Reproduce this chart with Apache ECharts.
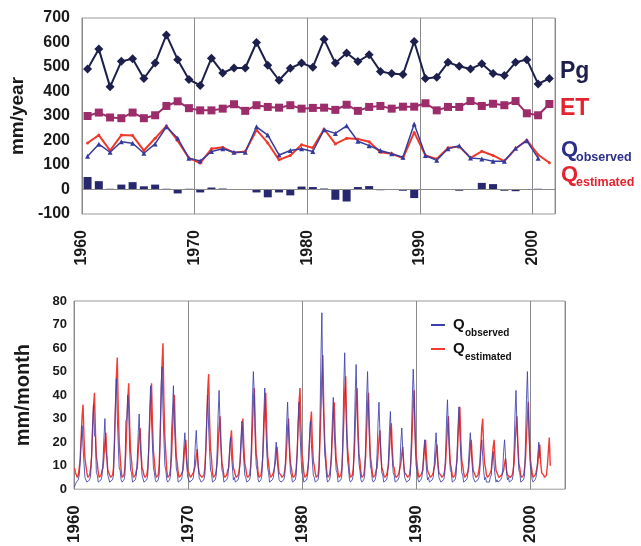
<!DOCTYPE html>
<html>
<head>
<meta charset="utf-8">
<script src="https://cdn.jsdelivr.net/npm/echarts@6/dist/echarts.min.js"></script>
<style>
html,body{margin:0;padding:0;background:#fff;}
#c{width:641px;height:546px;}
</style>
</head>
<body>
<div id="c"></div>
<script>
// ---------- annual data (mm/year) ----------
var years = [1960,1961,1962,1963,1964,1965,1966,1967,1968,1969,
             1970,1971,1972,1973,1974,1975,1976,1977,1978,1979,
             1980,1981,1982,1983,1984,1985,1986,1987,1988,1989,
             1990,1991,1992,1993,1994,1995,1996,1997,1998,1999,
             2000,2001];
var pg = [492,573,419,523,534,453,516,631,530,449,
          425,536,476,496,496,600,507,446,495,516,
          499,613,516,557,522,550,482,473,469,604,
          453,458,519,503,492,513,473,465,519,530,
          431,453];
var et = [300,314,294,291,314,291,303,341,360,332,
          323,323,330,348,321,344,337,334,344,330,
          333,334,325,346,321,337,341,330,338,338,
          352,323,337,337,361,341,350,344,361,311,
          303,349];
var qObsYear = [136,185,152,195,189,148,186,256,209,128,
                116,155,166,152,152,256,222,141,159,166,
                155,244,229,260,197,179,159,146,132,267,
                139,119,166,179,129,125,115,115,168,199,
                128];
var qEstYear = [190,222,159,222,220,159,209,260,199,128,
                108,166,172,150,155,243,190,121,139,183,
                170,247,186,209,206,195,152,146,128,233,
                139,125,170,175,129,156,139,116,166,202,
                142,109];
var diffYear = [51,34,3,20,30,13,20,3,-16,3,
                -12,8,4,0,2,-12,-32,-12,-24,12,
                10,4,-42,-49,10,14,-3,2,-5,-35,
                0,-2,2,-5,0,27,22,-5,-7,0,
                3];
var yTicksTop = [-100,0,100,200,300,400,500,600,700];
var xTickYears = [1960,1970,1980,1990,2000];

// ---------- monthly data (mm/month), Jan 1960 onward ----------
var qObsMonth = [
 1,2,3,3,4,6,11,20,27,18,11,5,     // 1960
 5,3,3,3,4,6,14,27,36,23,22,7,     // 1961
 6,3,3,3,4,6,12,22,30,16,14,6,     // 1962
 6,3,3,3,4,6,19,35,47,31,19,9,     // 1963
 8,4,3,3,4,6,29,30,40,34,16,8,     // 1964
 7,3,3,3,4,6,13,24,32,20,13,6,     // 1965
 6,3,3,3,4,6,18,33,44,29,18,9,     // 1966
 7,4,3,3,4,6,21,44,52,34,21,10,    // 1967
 8,4,3,3,4,6,25,33,44,29,18,9,     // 1968
 7,3,3,3,4,5,10,18,24,16,10,5,     // 1969
 5,3,3,3,4,5,10,19,25,16,10,5,     // 1970
 5,3,3,3,4,6,16,30,40,26,16,8,     // 1971
 7,3,3,3,4,6,17,32,42,27,17,8,     // 1972
 7,3,3,3,4,5,9,17,22,14,9,4,       // 1973
 5,3,3,3,4,6,12,22,29,19,12,6,     // 1974
 5,3,3,3,4,6,20,38,50,40,20,10,    // 1975
 8,4,3,3,4,6,17,32,43,28,17,9,     // 1976
 7,3,3,3,4,5,8,15,20,13,8,4,       // 1977
 4,3,3,3,4,6,15,28,37,24,15,7,     // 1978
 6,3,3,3,4,6,15,28,37,24,15,7,     // 1979
 6,3,3,3,4,6,12,22,29,19,12,6,     // 1980
 5,3,3,3,4,7,30,56,75,40,30,15,    // 1981
 11,5,3,3,4,6,16,29,39,25,16,8,    // 1982
 7,3,3,3,4,6,23,44,58,38,23,12,    // 1983
 9,4,3,3,4,6,21,40,53,34,21,11,    // 1984
 8,4,3,3,4,6,20,38,50,33,20,10,    // 1985
 8,4,3,3,4,6,15,28,37,24,15,7,     // 1986
 6,3,3,3,4,6,13,25,33,21,13,7,     // 1987
 6,3,3,3,4,5,10,20,26,17,10,5,     // 1988
 5,3,3,3,4,6,20,38,51,40,20,10,    // 1989
 8,4,3,3,4,5,8,16,21,14,8,4,       // 1990
 5,3,3,3,4,5,10,18,24,16,10,5,     // 1991
 5,3,3,3,4,6,15,29,38,25,15,8,     // 1992
 7,3,3,3,4,6,14,26,35,23,14,7,     // 1993
 6,3,3,3,4,5,10,18,24,16,10,5,     // 1994
 5,3,3,3,4,5,8,16,21,14,8,4,       // 1995
 5,3,3,3,3,5,6,12,16,10,6,3,       // 1996
 4,3,3,3,4,5,8,16,21,14,8,4,       // 1997
 5,3,3,3,4,6,17,32,42,27,17,8,     // 1998
 7,3,3,3,4,6,20,38,50,33,20,10,    // 1999
 8,4,3,3,4,5,8,15,20,13            // 2000 (Jan-Oct)
];
var qEstMonth = [
 9,7,6,5,6,9,13,22,31,36,22,13,    // 1960
 10,7,5,5,6,9,14,25,35,41,25,14,   // 1961
 11,7,5,5,6,8,9,14,20,24,14,8,     // 1962
 8,6,5,5,6,9,20,34,48,56,34,20,    // 1963
 14,8,5,5,6,9,16,27,38,45,27,16,   // 1964
 12,7,5,5,6,8,9,16,22,26,16,9,     // 1965
 8,6,5,5,6,9,16,27,38,45,27,16,    // 1966
 12,7,5,5,6,10,22,37,53,62,37,22,  // 1967
 15,8,5,5,6,9,14,24,34,40,24,14,   // 1968
 11,7,5,5,6,7,8,13,18,21,13,8,     // 1969
 7,6,5,5,5,7,7,10,14,17,10,7,      // 1970
 6,6,5,5,6,9,17,29,42,49,29,17,    // 1971
 13,7,5,5,6,8,11,19,26,31,19,11,   // 1972
 9,6,5,5,6,8,9,15,21,25,15,9,      // 1973
 8,6,5,5,6,8,11,18,26,30,18,11,    // 1974
 9,6,5,5,6,9,15,26,37,43,26,15,    // 1975
 12,7,5,5,6,9,14,25,35,41,25,14,   // 1976
 11,7,5,5,6,7,7,11,15,18,11,7,     // 1977
 7,6,5,5,6,8,11,18,26,30,18,11,    // 1978
 9,6,5,5,6,9,15,26,37,43,26,15,    // 1979
 12,7,5,5,6,8,12,20,28,33,20,12,   // 1980
 10,7,5,5,6,10,20,34,48,57,34,20,  // 1981
 14,8,5,5,6,9,13,22,31,37,22,13,   // 1982
 10,7,5,5,6,9,17,29,41,48,29,17,   // 1983
 13,7,5,5,6,9,15,26,37,43,26,15,   // 1984
 12,7,5,5,6,9,14,25,35,41,25,14,   // 1985
 11,7,5,5,6,8,9,15,21,25,15,9,     // 1986
 8,6,5,5,6,8,10,17,24,28,17,10,    // 1987
 9,6,5,5,6,7,7,11,15,18,11,7,      // 1988
 7,6,5,5,6,9,15,25,36,42,25,15,    // 1989
 11,7,5,5,6,7,8,13,18,21,13,8,     // 1990
 7,6,5,5,6,7,7,11,16,19,11,7,      // 1991
 7,6,5,5,6,8,11,19,26,31,19,11,    // 1992
 9,6,5,5,6,9,12,21,30,35,21,12,    // 1993
 10,7,5,5,6,7,8,13,18,21,13,8,     // 1994
 7,6,5,5,6,8,11,18,26,30,18,11,    // 1995
 9,6,5,5,6,7,8,13,18,21,13,8,      // 1996
 7,6,5,5,5,6,6,8,11,13,8,6,        // 1997
 6,6,5,5,6,8,11,19,26,31,19,11,    // 1998
 9,6,5,5,6,9,13,22,31,37,22,13,    // 1999
 10,7,5,5,6,7,7,11,16,19,11,7,     // 2000
 7,6,5,5,6,10,16,22,10             // 2001 (Jan-Sep)
];
var monthStartYear = 1960;

// ---------- chart ----------
var FF = '"Liberation Sans", Arial, sans-serif';
var NAVY = '#1d1f4c', PURP = '#9c2d6a', BLUE = '#353b9c', RED = '#f0382a', BAR = '#27286f';

function annual(arr){ return arr.map(function(v,i){ return [years[i]+0.5, v]; }); }
function monthly(arr){ return arr.map(function(v,i){ return [monthStartYear + (i+0.5)/12, v]; }); }

var chart = echarts.init(document.getElementById('c'), null, {renderer:'canvas'});
var tickFmt = function(v){ return xTickYears.indexOf(v) >= 0 ? String(v) : ''; };

var option = {
  animation: false,
  backgroundColor: '#fff',
  grid: [
    {left:74, top:18, width:481, height:196, show:true, borderColor:'#999', borderWidth:1, backgroundColor:'transparent'},
    {left:74, top:301, width:491, height:190, show:true, borderColor:'#999', borderWidth:1, backgroundColor:'transparent'}
  ],
  xAxis: [
    {type:'value', gridIndex:0, min:1960, max:2002, interval:10,
     axisLine:{show:false}, axisTick:{show:false},
     splitLine:{show:true, lineStyle:{color:'#8a8a8a', width:1}},
     axisLabel:{rotate:90, margin:16, fontSize:16, fontWeight:'bold', color:'#1a1a1a', fontFamily:FF, formatter:tickFmt, showMaxLabel:false}},
    {type:'value', gridIndex:1, min:1960, max:2003, interval:10,
     axisLine:{show:false}, axisTick:{show:false},
     splitLine:{show:true, lineStyle:{color:'#8a8a8a', width:1}},
     axisLabel:{rotate:90, margin:16, fontSize:17, fontWeight:'bold', color:'#1a1a1a', fontFamily:FF, formatter:tickFmt, showMaxLabel:false}}
  ],
  yAxis: [
    {type:'value', gridIndex:0, min:yTicksTop[0], max:yTicksTop[yTicksTop.length-1], interval:100,
     name:'mm/year', nameLocation:'middle', nameGap:46, nameRotate:90,
     nameTextStyle:{fontSize:19, fontWeight:'bold', color:'#1a1a1a', fontFamily:FF},
     axisLine:{show:false}, axisTick:{show:false}, splitLine:{show:false},
     axisLabel:{margin:12, fontSize:16, fontWeight:'bold', color:'#1a1a1a', fontFamily:FF}},
    {type:'value', gridIndex:1, min:0, max:80, interval:10,
     name:'mm/month', nameLocation:'middle', nameGap:41, nameRotate:90,
     nameTextStyle:{fontSize:20, fontWeight:'bold', color:'#1a1a1a', fontFamily:FF},
     axisLine:{show:false}, axisTick:{show:false}, splitLine:{show:false},
     axisLabel:{margin:7, fontSize:13, fontWeight:'bold', color:'#1a1a1a', fontFamily:FF}}
  ],
  series: [
    {type:'bar', xAxisIndex:0, yAxisIndex:0, data: annual(diffYear), barWidth:8,
     itemStyle:{color:BAR},
     markLine:{silent:true, symbol:['none','none'], label:{show:false},
               lineStyle:{color:'#8a8a8a', width:1, type:'solid'}, data:[{yAxis:0}]}},
    {type:'line', xAxisIndex:0, yAxisIndex:0, data: annual(pg), symbol:'diamond', symbolSize:9,
     lineStyle:{color:NAVY, width:2}, itemStyle:{color:NAVY}},
    {type:'line', xAxisIndex:0, yAxisIndex:0, data: annual(et), symbol:'rect', symbolSize:8,
     lineStyle:{color:PURP, width:2}, itemStyle:{color:PURP}},
    {type:'line', xAxisIndex:0, yAxisIndex:0, data: annual(qEstYear), symbol:'circle', symbolSize:3,
     lineStyle:{color:RED, width:2}, itemStyle:{color:RED}},
    {type:'line', xAxisIndex:0, yAxisIndex:0, data: annual(qObsYear), symbol:'triangle', symbolSize:5,
     lineStyle:{color:BLUE, width:1.5}, itemStyle:{color:BLUE}},
    {type:'line', xAxisIndex:1, yAxisIndex:1, data: monthly(qEstMonth), symbol:'none',
     lineStyle:{color:'#f23b33', width:1.4}},
    {type:'line', xAxisIndex:1, yAxisIndex:1, data: monthly(qObsMonth), symbol:'none',
     lineStyle:{color:'#3d3fae', width:1, opacity:0.85}}
  ],
  graphic: [
    {type:'text', left:560, top:60, style:{text:'Pg', fill:NAVY, font:'bold 23px '+FF}},
    {type:'text', left:560, top:97, style:{text:'ET', fill:'#e5232e', font:'bold 23px '+FF}},
    {type:'text', left:561, top:139, style:{text:'Q', fill:'#2b2f8a', font:'bold 22px '+FF}},
    {type:'text', left:576, top:151, style:{text:'observed', fill:'#2b2f8a', font:'bold 12.5px '+FF}},
    {type:'text', left:561, top:164, style:{text:'Q', fill:'#e5232e', font:'bold 22px '+FF}},
    {type:'text', left:576, top:176, style:{text:'estimated', fill:'#e5232e', font:'bold 12.5px '+FF}},
    {type:'line', shape:{x1:431, y1:325, x2:445, y2:325}, style:{stroke:'#3d3fae', lineWidth:2}},
    {type:'text', left:453, top:317, style:{text:'Q', fill:'#111', font:'bold 15px '+FF}},
    {type:'text', left:465, top:328, style:{text:'observed', fill:'#111', font:'bold 10px '+FF}},
    {type:'line', shape:{x1:431, y1:349, x2:445, y2:349}, style:{stroke:'#f23b33', lineWidth:2}},
    {type:'text', left:453, top:341, style:{text:'Q', fill:'#111', font:'bold 15px '+FF}},
    {type:'text', left:465, top:352, style:{text:'estimated', fill:'#111', font:'bold 10px '+FF}}
  ]
};
chart.setOption(option);
</script>
</body>
</html>
